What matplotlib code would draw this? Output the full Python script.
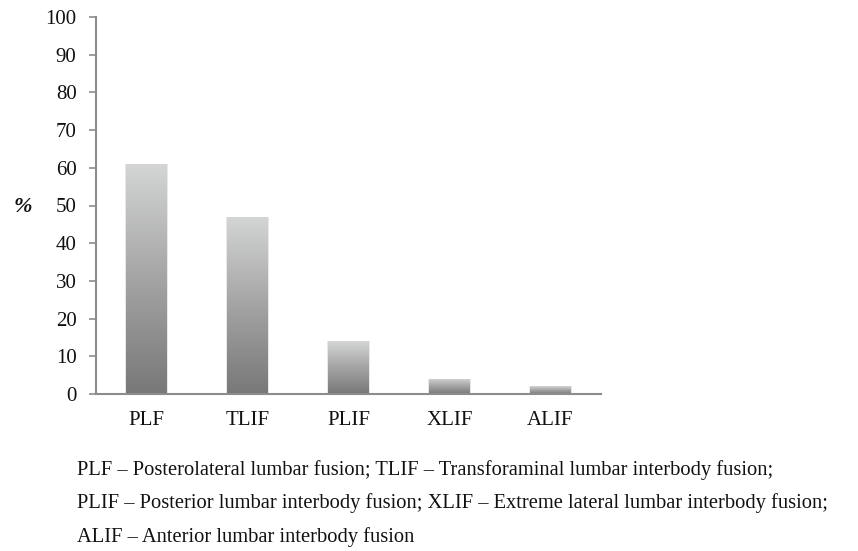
import numpy as np
import matplotlib
matplotlib.use("Agg")
import matplotlib.pyplot as plt
from matplotlib.colors import LinearSegmentedColormap

categories = ["PLF", "TLIF", "PLIF", "XLIF", "ALIF"]
percentages = [61, 47, 14, 4, 2]
y_ticks = [0, 10, 20, 30, 40, 50, 60, 70, 80, 90, 100]
caption_lines = [
    "PLF \u2013 Posterolateral lumbar fusion; TLIF \u2013 Transforaminal lumbar interbody fusion;",
    "PLIF \u2013 Posterior lumbar interbody fusion; XLIF \u2013 Extreme lateral lumbar interbody fusion;",
    "ALIF \u2013 Anterior lumbar interbody fusion",
]

plt.rcParams["font.family"] = ["Liberation Serif", "DejaVu Serif"]

fig = plt.figure(figsize=(8.58, 5.51), dpi=100)
ax = fig.add_axes([96 / 858, 1 - 394 / 551, 505 / 858, 377 / 551])

axis_grey = "#8c8c8c"
grad = LinearSegmentedColormap.from_list("bar_grad", ["#787878", "#a4a4a4", "#d4d5d5"])
grad_img = np.linspace(0, 1, 256).reshape(-1, 1)

x = np.arange(len(categories))
bars = ax.bar(x, percentages, width=0.4, color="none", edgecolor="none", zorder=2)
for rect in bars:
    x0, y0 = rect.get_x(), rect.get_y()
    w, h = rect.get_width(), rect.get_height()
    # faint halo around each bar
    ax.bar(x0 + w / 2, h, width=w * 1.06, bottom=y0, color="#e8e8e8", zorder=1.5,
           edgecolor="none")
    im = ax.imshow(grad_img, cmap=grad, origin="lower", aspect="auto",
                   extent=(x0, x0 + w, y0, y0 + h), zorder=2, interpolation="bilinear")
    im.set_clip_path(rect)

ax.set_xlim(-0.5, len(categories) - 0.5)
ax.set_ylim(0, 100)
ax.set_yticks(y_ticks)
ax.set_xticks(x)
ax.set_xticklabels(categories)

for side in ("top", "right"):
    ax.spines[side].set_visible(False)
for side in ("left", "bottom"):
    ax.spines[side].set_color(axis_grey)
    ax.spines[side].set_linewidth(1.5)

ax.tick_params(axis="y", direction="out", length=5, width=1.2, color=axis_grey,
               pad=9, labelsize=15, labelcolor="#111111")
ax.tick_params(axis="x", length=0, pad=12, labelsize=15, labelcolor="#111111")

fig.text(23 / 858, 1 - 207 / 551, "%", ha="center", va="center", fontsize=16,
         fontstyle="italic", fontweight="bold", color="#111111")

caption_y = [470, 503, 537]
for line, yp in zip(caption_lines, caption_y):
    fig.text(77 / 858, 1 - yp / 551, line, ha="left", va="center", fontsize=14.8,
             color="#111111")

fig.savefig("out.png", dpi=100)
